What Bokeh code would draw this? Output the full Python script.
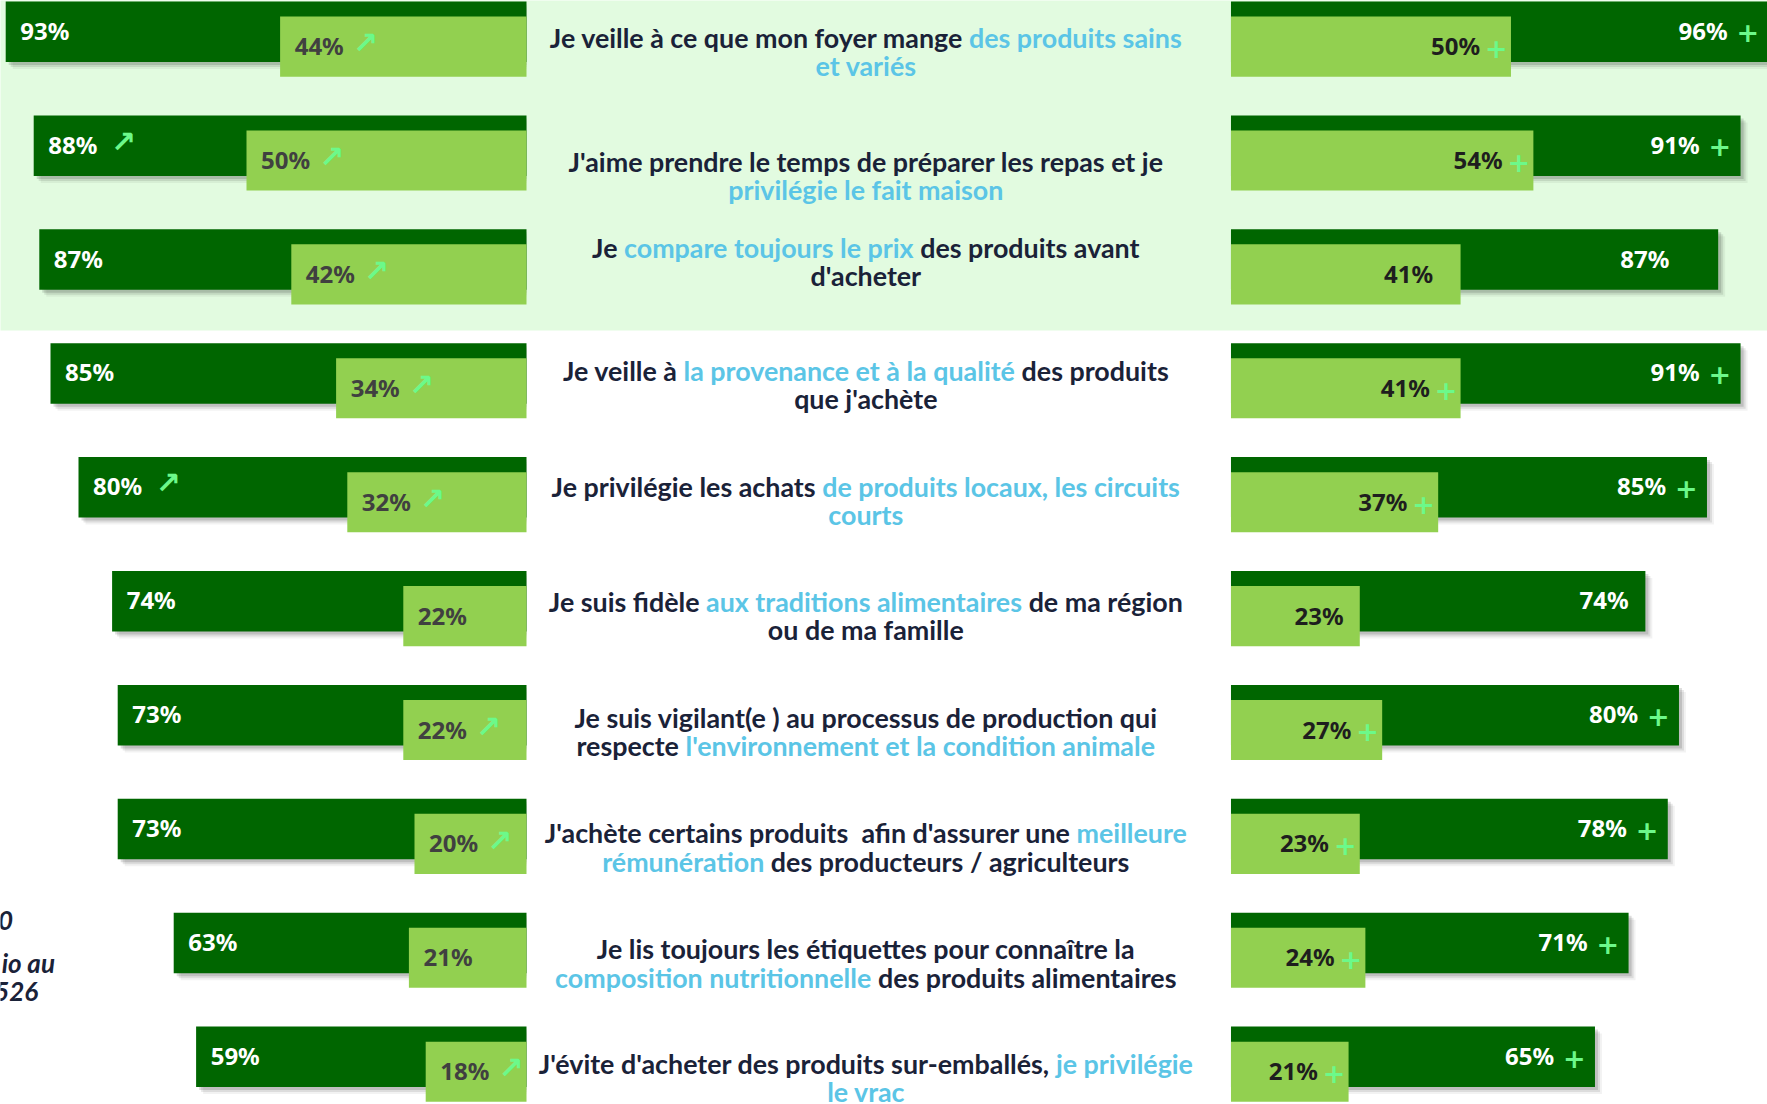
import os
import re
import subprocess
import numpy as np
from bokeh.plotting import figure
from bokeh.models import Range1d, ColumnDataSource
from bokeh.embed import file_html
from bokeh.resources import INLINE
from bokeh.core.properties import value

# ---------------- data ----------------
statements = [
    [[("Je veille à ce que mon foyer mange ", 0), ("des produits sains", 1)], [("et variés", 1)]],
    [[("J'aime prendre le temps de préparer les repas et je", 0)], [("privilégie le fait maison", 1)]],
    [[("Je ", 0), ("compare toujours le prix", 1), (" des produits avant", 0)], [("d'acheter", 0)]],
    [[("Je veille à ", 0), ("la provenance et à la qualité", 1), (" des produits", 0)], [("que j'achète", 0)]],
    [[("Je privilégie les achats ", 0), ("de produits locaux, les circuits", 1)], [("courts", 1)]],
    [[("Je suis fidèle ", 0), ("aux traditions alimentaires", 1), (" de ma région", 0)], [("ou de ma famille", 0)]],
    [[("Je suis vigilant(e ) au processus de production qui", 0)], [("respecte ", 0), ("l'environnement et la condition animale", 1)]],
    [[("J'achète certains produits  afin d'assurer une ", 0), ("meilleure", 1)], [("rémunération", 1), (" des producteurs / agriculteurs", 0)]],
    [[("Je lis toujours les étiquettes pour connaître la", 0)], [("composition nutritionnelle", 1), (" des produits alimentaires", 0)]],
    [[("J'évite d'acheter des produits sur-emballés, ", 0), ("je privilégie", 1)], [("le vrac", 1)]],
]

left_total = [93, 88, 87, 85, 80, 74, 73, 73, 63, 59]
left_sub = [44, 50, 42, 34, 32, 22, 22, 20, 21, 18]
left_total_up = [False, True, False, False, True, False, False, False, False, False]
left_sub_up = [True, True, True, True, True, False, True, True, False, True]

right_total = [96, 91, 87, 91, 85, 74, 80, 78, 71, 65]
right_sub = [50, 54, 41, 41, 37, 23, 27, 23, 24, 21]
right_total_plus = [True, True, False, True, True, False, True, True, True, True]
right_sub_plus = [True, True, False, True, True, False, True, True, True, True]

side_fragments = ["0", "io au", "526"]

# ---------------- layout / style ----------------
PX_PER_PCT = 5.6          # pixels per percentage point
ROW_PX = 113.9            # pixels per row
GAP = 125.8               # start of right bars, in % units from left anchor
DARK_H = 0.531
LIGHT_T, LIGHT_B = 0.132, 0.66
TEXT_X = 60.6
text_dy = [0.318, 0.407, 0.162, 0.242, 0.260, 0.270, 0.288, 0.304, 0.320, 0.324]
LINE_DY = 0.251
# label inset from the bar end on the right panel (% units)
right_dark_inset = [7.3, 7.3, 8.7, 7.3, 7.3, 3.0, 7.3, 7.3, 7.3, 7.3]
right_light_inset = [5.5, 5.5, 4.9, 5.5, 5.5, 2.9, 5.5, 5.5, 5.5, 5.5]
frag_x = [-91.7, -84.2, -87.2]
frag_y = [8.07, 8.44, 8.69]

DARK = "#006600"
LIGHT = "#92D050"
BAND = "#E2FBE0"
NAVY = "#1A2238"
CYAN = "#5BC5E6"
MINT = "#6CF98A"

n = len(left_total)
rows = np.arange(n, dtype=float)


def find_font(pattern, names):
    try:
        out = subprocess.run(["fc-match", "-f", "%{file}", pattern],
                             capture_output=True, text=True, timeout=5).stdout.strip()
        if out and os.path.exists(out) and os.path.basename(out) in names:
            return out
    except Exception:
        pass
    for root in ["/usr/share/fonts", "/usr/local/share/fonts"]:
        for dp, _, files in os.walk(root):
            for f in files:
                if f in names:
                    return os.path.join(dp, f)
    return None


_font = None
try:
    from PIL import ImageFont
    path = find_font("Lato:bold", ["Lato-Bold.ttf"])
    if path:
        _font = ImageFont.truetype(path, 100)
except Exception:
    _font = None


def measure(text, size):
    if _font is not None:
        return _font.getlength(text) * size / 100.0
    return len(text) * 0.49 * size


first_line = "".join(s for s, _ in statements[0][0])
CT_SIZE = 632.0 / measure(first_line, 100.0) * 100.0
CT_SIZE = max(19.0, min(30.0, CT_SIZE))

# ---------------- figure ----------------
p = figure(width=1767, height=1104,
           x_range=Range1d(-526.0 / PX_PER_PCT, (1767 - 526.0) / PX_PER_PCT),
           y_range=Range1d(1103.0 / ROW_PX, -1.0 / ROW_PX),
           output_backend="svg", toolbar_location=None,
           x_axis_location=None, y_axis_location=None, min_border=0)
p.grid.visible = False
p.outline_line_color = None
p.background_fill_color = "white"
p.border_fill_color = "white"

# band behind first three rows
p.quad(left=[-120], right=[260], top=[-1], bottom=[2.889], fill_color=BAND, line_color=None)

lt = np.array(left_total, float)
ls = np.array(left_sub, float)
rt = np.array(right_total, float)
rs = np.array(right_sub, float)

# soft drop shadows
for dx, dy, a in [(7, 7, 0.05), (5, 5, 0.09), (3, 3, 0.13)]:
    ddx, ddy = dx / PX_PER_PCT, dy / ROW_PX
    p.quad(left=-lt + ddx, right=np.zeros(n), top=rows + ddy, bottom=rows + DARK_H + ddy,
           fill_color="black", fill_alpha=a, line_color=None)
    p.quad(left=np.full(n, GAP) + ddx, right=GAP + rt + ddx, top=rows + ddy,
           bottom=rows + DARK_H + ddy, fill_color="black", fill_alpha=a, line_color=None)

# dark bars
p.quad(left=-lt, right=np.zeros(n), top=rows, bottom=rows + DARK_H, fill_color=DARK, line_color=None)
p.quad(left=np.full(n, GAP), right=GAP + rt, top=rows, bottom=rows + DARK_H, fill_color=DARK, line_color=None)
# light bars
p.quad(left=-ls, right=np.zeros(n), top=rows + LIGHT_T, bottom=rows + LIGHT_B, fill_color=LIGHT, line_color=None)
p.quad(left=np.full(n, GAP), right=GAP + rs, top=rows + LIGHT_T, bottom=rows + LIGHT_B, fill_color=LIGHT, line_color=None)

lab_kw = dict(text_font=value("Noto Sans"), text_font_style="bold", text_font_size="24px",
              text_baseline="middle")
Y_DARK, Y_LIGHT = 0.252, 0.388

# left labels
p.text(x=-lt + 2.6, y=rows + Y_DARK, text=[f"{v}%" for v in left_total],
       text_color="white", text_align="left", **lab_kw)
p.text(x=-ls + 2.6, y=rows + Y_LIGHT, text=[f"{v}%" for v in left_sub],
       text_color="#404040", text_align="left", **lab_kw)

arrow_kw = dict(text_font=value("DejaVu Sans"), text_font_style="bold", text_font_size="30px",
                text_baseline="middle", text_align="center", text_color=MINT)
ax, ay = [], []
for i in range(n):
    if left_total_up[i]:
        ax.append(-lt[i] + 2.6 + 13.4); ay.append(i + Y_DARK - 0.025)
    if left_sub_up[i]:
        ax.append(-ls[i] + 2.6 + 12.6); ay.append(i + Y_LIGHT - 0.025)
p.text(x=ax, y=ay, text=["↗"] * len(ax), **arrow_kw)

# right labels
p.text(x=GAP + rt - np.array(right_dark_inset), y=rows + Y_DARK, text=[f"{v}%" for v in right_total],
       text_color="white", text_align="right", **lab_kw)
p.text(x=GAP + rs - np.array(right_light_inset), y=rows + Y_LIGHT, text=[f"{v}%" for v in right_sub],
       text_color="#1E1E1E", text_align="right", **lab_kw)

px_, py_ = [], []
for i in range(n):
    if right_total_plus[i]:
        px_.append(GAP + rt[i] - 3.7); py_.append(i + Y_DARK + 0.02)
    if right_sub_plus[i]:
        px_.append(GAP + rs[i] - 2.6); py_.append(i + Y_LIGHT + 0.02)
p.text(x=px_, y=py_, text=["+"] * len(px_), text_font=value("DejaVu Sans"), text_font_style="bold",
       text_font_size="27px", text_baseline="middle", text_align="center", text_color=MINT)

# centre statements (two lines, mixed colours)
cx, cy, ctext, ccol = [], [], [], []
for i, lines in enumerate(statements):
    for li, segs in enumerate(lines):
        full = "".join(s for s, _ in segs)
        W = measure(full, CT_SIZE)
        start = -W / 2.0
        pos = 0
        for s, hl in segs:
            for m in re.finditer(r"\S+(?: \S+)*", s):
                off = start + measure(full[:pos + m.start()], CT_SIZE)
                cx.append(TEXT_X + off / PX_PER_PCT)
                cy.append(i + text_dy[i] + li * LINE_DY)
                ctext.append(m.group(0))
                ccol.append(CYAN if hl else NAVY)
            pos += len(s)
src_c = ColumnDataSource(dict(x=cx, y=cy, text=ctext, color=ccol))
p.text(x="x", y="y", text="text", text_color="color", source=src_c,
       text_font=value("Lato"), text_font_style="bold", text_font_size=f"{CT_SIZE:.2f}px",
       text_align="left", text_baseline="middle")

# cut-off side note fragments at left edge
p.text(x=frag_x, y=frag_y, text=side_fragments, text_font=value("Lato"),
       text_font_style="bold italic", text_font_size="26px", text_color=NAVY,
       text_align="right", text_baseline="middle")

with open("out.html", "w", encoding="utf-8") as f:
    f.write(file_html(p, INLINE, title="Comportements alimentaires"))
